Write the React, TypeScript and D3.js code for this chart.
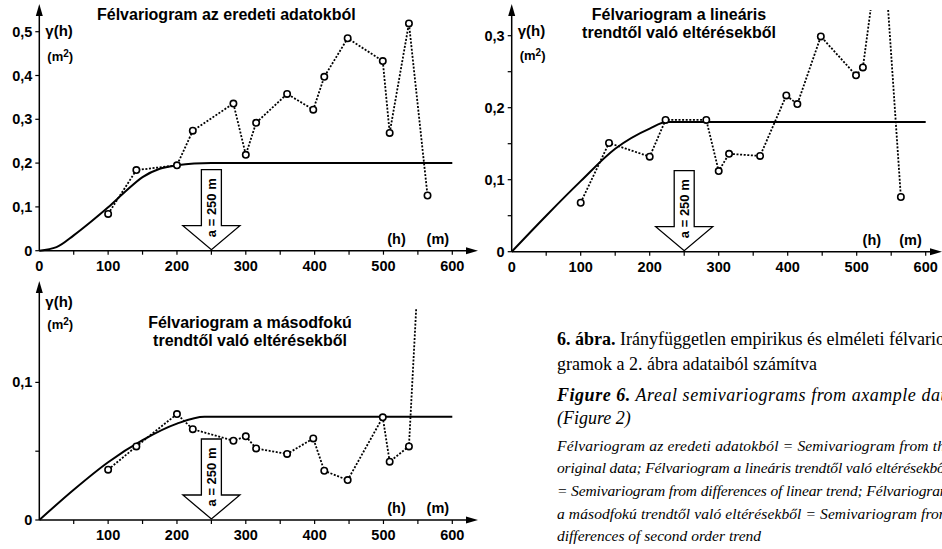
import React from 'react'
import * as d3 from 'd3'

// lag distances (m) shared by the three empirical semivariograms
const lags = [100, 141, 200, 223, 282, 300, 315, 360, 398, 414, 448, 499, 509, 537, 564]
const gammaOriginal = [0.084, 0.184, 0.195, 0.274, 0.336, 0.219, 0.292, 0.358, 0.322, 0.397, 0.485, 0.433, 0.269, 0.519, 0.126]
const gammaLinear = [0.068, 0.151, 0.132, 0.183, 0.183, 0.112, 0.136, 0.133, 0.217, 0.205, 0.299, 0.245, 0.256, 0.457, 0.076]
const gammaQuadratic = [0.0366, 0.0535, 0.077, 0.066, 0.0576, 0.0608, 0.052, 0.048, 0.0593, 0.0358, 0.029, 0.0746, 0.0424, 0.0535, 0.31]

// theoretical models
const modelLags1 = [0, 25, 50, 75, 100, 125, 150, 175, 200, 225, 250, 600]
const modelOriginal = [0, 0.008, 0.035, 0.066, 0.099, 0.135, 0.168, 0.187, 0.195, 0.199, 0.2, 0.2]
const modelLags2 = [0, 50, 100, 150, 200, 225, 250, 600]
const modelLinear = [0, 0.05, 0.098, 0.143, 0.171, 0.18, 0.18, 0.18]
const modelLags3 = [0, 50, 100, 150, 200, 240, 600]
const modelQuadratic = [0, 0.022, 0.042, 0.058, 0.07, 0.075, 0.075]

const xTickLabels = [0, 100, 200, 300, 400, 500, 600]
const xMinorTicks = [50, 150, 250, 350, 450, 550]
const yTicks1 = [0, 0.1, 0.2, 0.3, 0.4, 0.5]
const yTicks2 = [0, 0.05, 0.1, 0.15, 0.2, 0.25, 0.3]
const yTicks3 = [0, 0.05, 0.1]
const range = 250

const SANS = '"Liberation Sans", Arial, sans-serif'
const SERIF = '"Liberation Serif", "Times New Roman", serif'

const fmt = (v: number) => String(+v.toFixed(2)).replace('.', ',')

type PanelProps = {
  id: string
  xRange: [number, number]
  yDomain: [number, number]
  yRange: [number, number]
  yTicks: number[]
  yLabelled: number[]
  showX0: boolean
  axisTop: number
  axisRight: number
  clipTop: number
  gammaLabelY: number
  unitLabelY: number
  hLabelAt: [number, number]
  title: string[]
  titleX: number
  titleY: number
  titleAnchor: string
  modelX: number[]
  modelY: number[]
  gamma: number[]
}

function Panel(p: PanelProps) {
  const x = d3.scaleLinear().domain([0, 600]).range(p.xRange)
  const y = d3.scaleLinear().domain(p.yDomain).range(p.yRange)
  const x0 = x(0)
  const y0 = y(0)

  const model = d3.line<number>()
    .x((_, i) => x(p.modelX[i]))
    .y(d => y(d))
    .curve(d3.curveMonotoneX)(p.modelY)

  const empirical = d3.line<number>()
    .x((_, i) => x(lags[i]))
    .y(d => y(d))(p.gamma)

  const cx = x(range)
  const arrowPts = [
    [cx - 10, y0 - 81], [cx + 10, y0 - 81], [cx + 10, y0 - 25], [cx + 28.5, y0 - 25],
    [cx, y0 - 1], [cx - 28.5, y0 - 25], [cx - 10, y0 - 25],
  ].map(d => d.join(',')).join(' ')

  return (
    <g>
      <defs>
        <clipPath id={p.id}>
          <rect x={x0} y={p.clipTop} width={p.axisRight - x0} height={y0 - p.clipTop + 10} />
        </clipPath>
      </defs>

      {/* axes */}
      <line x1={x0} y1={y0} x2={p.axisRight - 6} y2={y0} stroke="#000" strokeWidth={1.5} />
      <polygon points={`${p.axisRight},${y0} ${p.axisRight - 12},${y0 - 3.5} ${p.axisRight - 12},${y0 + 3.5}`} fill="#000" />
      <line x1={x0} y1={y0} x2={x0} y2={p.axisTop + 6} stroke="#000" strokeWidth={1.5} />
      <polygon points={`${x0},${p.axisTop} ${x0 - 3.5},${p.axisTop + 12} ${x0 + 3.5},${p.axisTop + 12}`} fill="#000" />

      {[...xTickLabels.slice(1), ...xMinorTicks].map(t => (
        <line key={'xt' + t} x1={x(t)} x2={x(t)} y1={y0} y2={y0 + 4} stroke="#000" strokeWidth={1.2} />
      ))}
      {xTickLabels.filter(t => p.showX0 || t > 0).map(t => (
        <text key={'xl' + t} x={x(t)} y={y0 + 20} textAnchor="middle" fontFamily={SANS} fontWeight="bold" fontSize={14.5}>{t}</text>
      ))}
      {p.yTicks.map(t => (
        <line key={'yt' + t} x1={x0 - 4} x2={x0} y1={y(t)} y2={y(t)} stroke="#000" strokeWidth={1.2} />
      ))}
      {p.yLabelled.map(t => (
        <text key={'yl' + t} x={x0 - 7} y={y(t) + 5} textAnchor="end" fontFamily={SANS} fontWeight="bold" fontSize={14.5}>{fmt(t)}</text>
      ))}

      <text x={x0 + 6} y={p.gammaLabelY} fontFamily={SANS} fontWeight="bold" fontSize={15}>γ(h)</text>
      <text x={x0 + 8} y={p.unitLabelY} fontFamily={SANS} fontWeight="bold" fontSize={13}>
        (m<tspan dy={-4} fontSize={10}>2</tspan><tspan dy={4}>)</tspan>
      </text>
      <text x={x(p.hLabelAt[0])} y={y0 - 7} textAnchor="middle" fontFamily={SANS} fontWeight="bold" fontSize={14.5}>(h)</text>
      <text x={x(p.hLabelAt[1])} y={y0 - 7} textAnchor="middle" fontFamily={SANS} fontWeight="bold" fontSize={14.5}>(m)</text>

      {p.title.map((t, i) => (
        <text key={t} x={p.titleX} y={p.titleY + i * 18} textAnchor={p.titleAnchor} fontFamily={SANS} fontWeight="bold" fontSize={16}>{t}</text>
      ))}

      {/* theoretical model */}
      <path d={model || ''} fill="none" stroke="#000" strokeWidth={2} />

      {/* empirical semivariogram */}
      <g clipPath={`url(#${p.id})`}>
        <path d={empirical || ''} fill="none" stroke="#000" strokeWidth={1.8} strokeDasharray="2,1.6" />
        {p.gamma.map((g, i) => (
          <circle key={i} cx={x(lags[i])} cy={y(g)} r={3.2} fill="#fff" stroke="#000" strokeWidth={1.6} />
        ))}
      </g>

      {/* range arrow */}
      <polygon points={arrowPts} fill="#fff" stroke="#000" strokeWidth={1.3} />
      <text transform={`translate(${cx},${y0 - 43}) rotate(-90)`} textAnchor="middle" dominantBaseline="central"
        fontFamily={SANS} fontWeight="bold" fontSize={13}>a = 250 m</text>
    </g>
  )
}

export default function App() {
  const captionX = 557
  return (
    <svg width={942} height={549} style={{ position: 'absolute', left: 0, top: 0, background: '#fff' }}>
      <rect width={942} height={549} fill="#fff" />
      <Panel id="c1" xRange={[39.3, 452.3]} yDomain={[0, 0.5]} yRange={[250.7, 31.7]}
        yTicks={yTicks1} yLabelled={yTicks1} showX0 axisTop={4} axisRight={478} clipTop={0}
        gammaLabelY={36} unitLabelY={61} hLabelAt={[519, 579]}
        title={['Félvariogram az eredeti adatokból']} titleX={97} titleY={20} titleAnchor="start"
        modelX={modelLags1} modelY={modelOriginal} gamma={gammaOriginal} />
      <Panel id="c2" xRange={[511.7, 925.7]} yDomain={[0, 0.3]} yRange={[251.7, 35.7]}
        yTicks={yTicks2} yLabelled={[0, 0.1, 0.2, 0.3]} showX0 axisTop={4} axisRight={942} clipTop={10}
        gammaLabelY={36} unitLabelY={60} hLabelAt={[522, 578]}
        title={['Félvariogram a lineáris', 'trendtől való eltérésekből']} titleX={679} titleY={20} titleAnchor="middle"
        modelX={modelLags2} modelY={modelLinear} gamma={gammaLinear} />
      <Panel id="c3" xRange={[39.3, 452.3]} yDomain={[0, 0.1]} yRange={[520, 382.4]}
        yTicks={yTicks3} yLabelled={[0, 0.1]} showX0={false} axisTop={281} axisRight={478} clipTop={308}
        gammaLabelY={307} unitLabelY={329} hLabelAt={[519, 579]}
        title={['Félvariogram a másodfokú', 'trendtől való eltérésekből']} titleX={250} titleY={328} titleAnchor="middle"
        modelX={modelLags3} modelY={modelQuadratic} gamma={gammaQuadratic} />

      <g fontFamily={SERIF} fill="#000">
        <text x={captionX} y={345} fontSize={18}>
          <tspan fontWeight="bold">6. ábra.</tspan> Irányfüggetlen empirikus és elméleti félvario-
        </text>
        <text x={captionX} y={370} fontSize={18}>gramok a 2. ábra adataiból számítva</text>
        <text x={captionX} y={401} fontSize={18} fontStyle="italic" textLength={398} lengthAdjust="spacing">
          <tspan fontWeight="bold">Figure 6.</tspan> Areal semivariograms from axample data
        </text>
        <text x={captionX} y={424} fontSize={18} fontStyle="italic">(Figure 2)</text>
        <text x={captionX} y={451} fontSize={15.5} fontStyle="italic" textLength={395} lengthAdjust="spacing">Félvariogram az eredeti adatokból = Semivariogram from the</text>
        <text x={captionX} y={473} fontSize={15.5} fontStyle="italic" textLength={392} lengthAdjust="spacing">original data; Félvariogram a lineáris trendtől való eltérésekből</text>
        <text x={captionX} y={496} fontSize={15.5} fontStyle="italic" textLength={394} lengthAdjust="spacing">= Semivariogram from differences of linear trend; Félvariogram</text>
        <text x={captionX} y={519} fontSize={15.5} fontStyle="italic" textLength={393} lengthAdjust="spacing">a másodfokú trendtől való eltérésekből = Semivariogram from</text>
        <text x={captionX} y={541} fontSize={15.5} fontStyle="italic">differences of second order trend</text>
      </g>
    </svg>
  )
}
